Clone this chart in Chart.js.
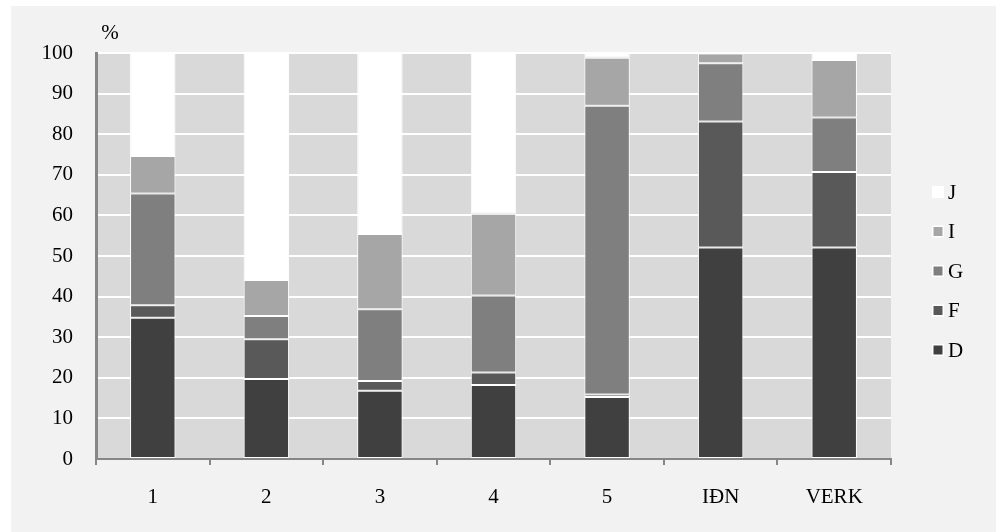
<!DOCTYPE html>
<html>
<head>
<meta charset="utf-8">
<script src="https://cdn.jsdelivr.net/npm/chart.js@4.4.1/dist/chart.umd.min.js"></script>
<style>
  html, body { margin: 0; padding: 0; background: #ffffff; }
  #wrap { width: 1001px; height: 532px; }
</style>
</head>
<body>
<div id="wrap"><canvas id="c" width="1001" height="532"></canvas></div>
<script>
const categories = ['1', '2', '3', '4', '5', 'IÐN', 'VERK'];
const seriesNames = ['D', 'F', 'G', 'I', 'J'];
const valuesD = [34.8, 19.7, 16.8, 18.2, 15.3, 52.1, 52.1];
const valuesF = [3.1, 9.8, 2.4, 3.1, 0.6, 31.0, 18.6];
const valuesG = [27.5, 5.7, 17.7, 19.0, 71.1, 14.4, 13.4];
const valuesI = [9.2, 8.9, 18.5, 20.1, 11.8, 2.4, 14.2];
const valuesJ = [25.4, 55.9, 44.6, 39.6, 1.2, 0.1, 1.7];
const yTicks = [0, 10, 20, 30, 40, 50, 60, 70, 80, 90, 100];
const unitLabel = '%';

const colors = ['#404040', '#595959', '#7f7f7f', '#a6a6a6', '#ffffff'];
const seriesValues = [valuesD, valuesF, valuesG, valuesI, valuesJ];
const FONT = '"Liberation Serif", "Times New Roman", serif';

const bgPlugin = {
  id: 'bg',
  beforeDraw(chart) {
    const ctx = chart.ctx, a = chart.chartArea;
    ctx.save();
    ctx.fillStyle = '#ffffff';
    ctx.fillRect(0, 0, chart.width, chart.height);
    ctx.fillStyle = '#f2f2f2';
    ctx.fillRect(11, 6, 985, 526);
    ctx.fillStyle = '#d9d9d9';
    ctx.fillRect(a.left, a.top, a.right - a.left, a.bottom - a.top);
    ctx.restore();
  },
  afterDraw(chart) {
    const ctx = chart.ctx, a = chart.chartArea;
    ctx.save();
    // unit label
    ctx.font = '21px ' + FONT;
    ctx.fillStyle = '#000000';
    ctx.textAlign = 'center';
    ctx.textBaseline = 'middle';
    ctx.fillText(unitLabel, 110, 33);
    // legend (reversed order)
    const ds = chart.data.datasets;
    const startY = 192, step = 39.5;
    ctx.textAlign = 'left';
    for (let k = 0; k < ds.length; k++) {
      const d = ds[ds.length - 1 - k];
      const cy = startY + k * step;
      ctx.fillStyle = '#ffffff';
      ctx.fillRect(932, cy - 6, 12, 12);
      ctx.fillStyle = d.backgroundColor;
      ctx.fillRect(933.5, cy - 4.5, 9, 9);
      ctx.fillStyle = '#000000';
      ctx.fillText(d.label, 948, cy + 1);
    }
    ctx.restore();
  }
};

new Chart(document.getElementById('c'), {
  type: 'bar',
  data: {
    labels: categories,
    datasets: seriesNames.map((n, i) => ({
      label: n,
      data: seriesValues[i],
      backgroundColor: colors[i],
      borderColor: '#ffffff',
      borderWidth: 1,
      borderSkipped: false,
      barPercentage: 0.4,
      categoryPercentage: 1.0
    }))
  },
  options: {
    responsive: false,
    animation: false,
    layout: { padding: { left: 0, right: 110, top: 53, bottom: 0 } },
    plugins: { legend: { display: false }, tooltip: { enabled: false } },
    scales: {
      x: {
        stacked: true,
        offset: true,
        grid: {
          display: true, drawOnChartArea: false, drawTicks: true,
          tickLength: 6, color: '#868686', lineWidth: 2, offset: true
        },
        border: { display: true, color: '#868686', width: 2 },
        ticks: { color: '#000000', font: { family: FONT, size: 21 }, padding: 20, maxRotation: 0 },
        afterFit(scale) { scale.height = 73; }
      },
      y: {
        stacked: true,
        min: 0, max: 100,
        afterBuildTicks(scale) { scale.ticks = yTicks.map(v => ({ value: v })); },
        grid: {
          color: (c) => (c.tick && c.tick.value === 0) ? 'rgba(0,0,0,0)' : '#ffffff',
          lineWidth: 2, drawTicks: false
        },
        border: { display: true, color: '#868686', width: 3 },
        ticks: { color: '#000000', font: { family: FONT, size: 21 }, padding: 23 },
        afterFit(scale) { scale.width = 96; }
      }
    }
  },
  plugins: [bgPlugin]
});
</script>
</body>
</html>
